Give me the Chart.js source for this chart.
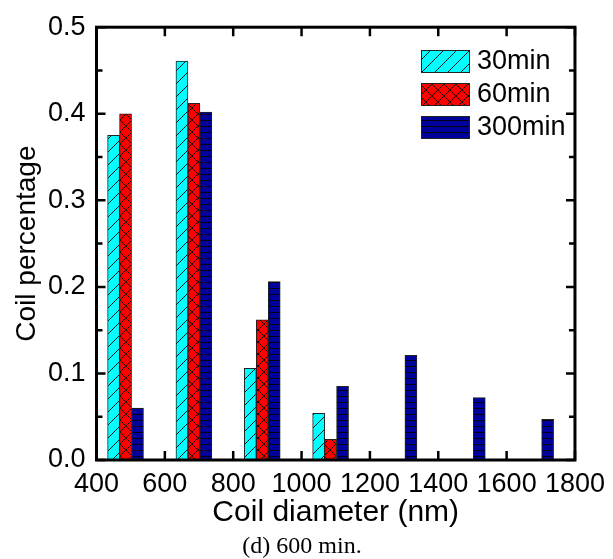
<!DOCTYPE html>
<html>
<head>
<meta charset="utf-8">
<script src="https://cdn.jsdelivr.net/npm/chart.js@4"></script>
<style>
  body { margin: 0; background: #fff; }
  #wrap { width: 613px; height: 559px; }
</style>
</head>
<body>
<div id="wrap"><canvas id="myChart"></canvas></div>
<script>

const seriesNames = ['30min', '60min', '300min'];
const caption = '(d) 600 min.';

const diam30 = [450, 650, 850, 1050];
const pct30 = [0.375, 0.461, 0.106, 0.054];

const diam60 = [485, 685, 885, 1085];
const pct60 = [0.400, 0.412, 0.162, 0.024];

const diam300 = [520, 720, 920, 1120, 1320, 1520, 1720];
const pct300 = [0.060, 0.402, 0.206, 0.085, 0.121, 0.072, 0.047];

const xTicks = [400, 600, 800, 1000, 1200, 1400, 1600, 1800];
const yTicks = [0, 0.1, 0.2, 0.3, 0.4, 0.5];

const FONT = "'Liberation Sans', Arial, sans-serif";

function makePattern(bg, size, drawLines) {
  const c = document.createElement('canvas');
  c.width = size;
  c.height = size;
  const g = c.getContext('2d');
  g.fillStyle = bg;
  g.fillRect(0, 0, size, size);
  g.strokeStyle = '#000';
  g.lineWidth = 0.9;
  drawLines(g, size);
  return document.createElement('canvas').getContext('2d').createPattern(c, 'repeat');
}

const hatch = makePattern('#00FFFF', 13, (g, s) => {
  g.beginPath();
  g.moveTo(-1, s + 1); g.lineTo(s + 1, -1);
  g.stroke();
});
const cross = makePattern('#FF0000', 12, (g, s) => {
  g.beginPath();
  g.moveTo(0, 0); g.lineTo(s, s);
  g.moveTo(0, s); g.lineTo(s, 0);
  g.stroke();
});
const hlines = makePattern('#00009C', 6, (g, s) => {
  g.beginPath();
  g.moveTo(0, 0.5); g.lineTo(s, 0.5);
  g.stroke();
});

const toPoints = (xs, ys) => xs.map((x, i) => ({x: x, y: ys[i]}));

const data = {
  datasets: [
    {label: seriesNames[0], data: toPoints(diam30, pct30), backgroundColor: hatch},
    {label: seriesNames[1], data: toPoints(diam60, pct60), backgroundColor: cross},
    {label: seriesNames[2], data: toPoints(diam300, pct300), backgroundColor: hlines}
  ].map(d => Object.assign(d, {
    borderColor: '#222',
    borderWidth: 1,
    borderSkipped: false,
    barThickness: 12,
    grouped: false
  }))
};

// frame, inward ticks, legend box and caption
const framePlugin = {
  id: 'frame',
  afterDraw(chart) {
    const ctx = chart.ctx;
    const a = chart.chartArea;
    const xs = chart.scales.x;
    const ys = chart.scales.y;
    ctx.save();
    ctx.strokeStyle = '#000';
    ctx.lineWidth = 2.5;
    xTicks.forEach(v => {
      const px = xs.getPixelForValue(v);
      ctx.beginPath();
      ctx.moveTo(px, a.bottom); ctx.lineTo(px, a.bottom - 9);
      ctx.moveTo(px, a.top); ctx.lineTo(px, a.top + 9);
      ctx.stroke();
    });
    for (let v = 0; v <= 0.5001; v += 0.05) {
      const py = ys.getPixelForValue(v);
      const major = Math.round(v * 100) % 10 === 0;
      const len = major ? 9 : 6;
      ctx.beginPath();
      ctx.moveTo(a.left, py); ctx.lineTo(a.left + len, py);
      ctx.moveTo(a.right, py); ctx.lineTo(a.right - len, py);
      ctx.stroke();
    }
    ctx.lineWidth = 3;
    ctx.strokeRect(a.left, a.top, a.right - a.left, a.bottom - a.top);

    const bx = 421, bw = 48, bh = 22;
    const tops = [50, 83, 116];
    ctx.font = '27px ' + FONT;
    ctx.textBaseline = 'middle';
    ctx.textAlign = 'left';
    chart.data.datasets.forEach((d, i) => {
      ctx.fillStyle = d.backgroundColor;
      ctx.fillRect(bx, tops[i], bw, bh);
      ctx.lineWidth = 1;
      ctx.strokeStyle = '#222';
      ctx.strokeRect(bx + 0.5, tops[i] + 0.5, bw, bh);
      ctx.fillStyle = '#000';
      ctx.fillText(d.label, 477, tops[i] + bh / 2 + 1);
    });

    ctx.font = "24px 'Liberation Serif', 'Times New Roman', serif";
    ctx.textAlign = 'center';
    ctx.fillText(caption, 302, 547);
    ctx.restore();
  }
};

const config = {
  type: 'bar',
  data: data,
  options: {
    responsive: true,
    maintainAspectRatio: false,
    animation: false,
    layout: {padding: {top: 25, right: 31, left: 0, bottom: 24}},
    plugins: {
      legend: {display: false},
      tooltip: {enabled: false}
    },
    scales: {
      x: {
        type: 'linear',
        min: 400,
        max: 1800,
        offset: false,
        afterBuildTicks: s => { s.ticks = xTicks.map(v => ({value: v})); },
        afterFit: s => { s.height = 75; },
        grid: {display: false, drawTicks: false},
        border: {display: false},
        ticks: {color: '#000', padding: 8, maxRotation: 0, autoSkip: false, font: {family: FONT, size: 27}, callback: v => String(v)},
        title: {display: true, text: 'Coil diameter (nm)', color: '#000', padding: {top: 0, bottom: 4}, font: {family: FONT, size: 30}}
      },
      y: {
        min: 0,
        max: 0.5,
        afterBuildTicks: s => { s.ticks = yTicks.map(v => ({value: v})); },
        afterFit: s => { s.width = 96.5; },
        grid: {display: false, drawTicks: false},
        border: {display: false},
        ticks: {color: '#000', padding: 11, font: {family: FONT, size: 27}, callback: v => v.toFixed(1)},
        title: {display: true, text: 'Coil percentage', color: '#000', padding: {top: 10, bottom: 0}, font: {family: FONT, size: 28}}
      }
    }
  },
  plugins: [framePlugin]
};

const myChart = new Chart(
  document.getElementById('myChart'),
  config
);
</script>
</body>
</html>
